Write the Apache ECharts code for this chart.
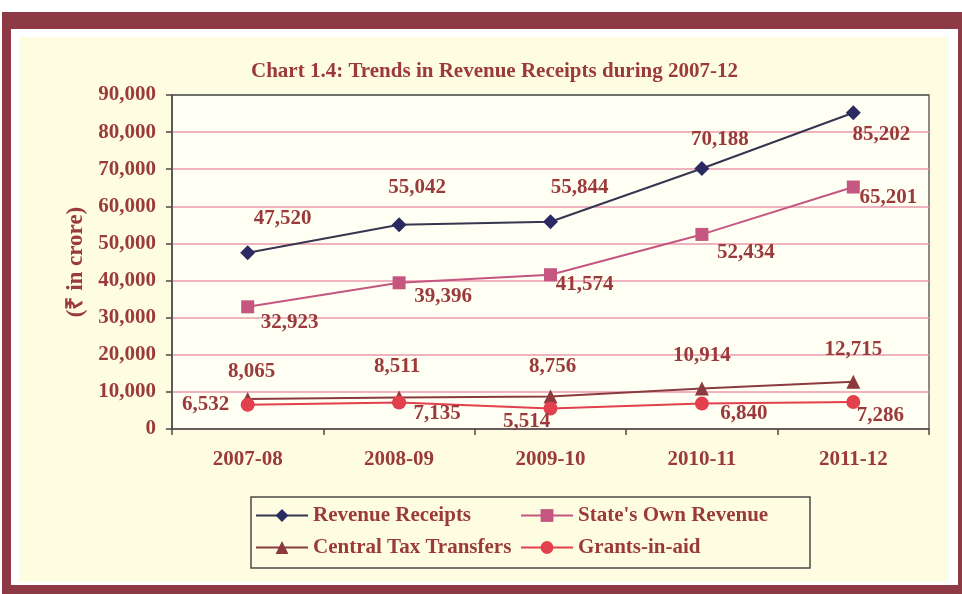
<!DOCTYPE html>
<html>
<head>
<meta charset="utf-8">
<style>
  html, body { margin: 0; padding: 0; background: #ffffff; }
  #chart { width: 962px; height: 594px; }
</style>
<script src="https://cdn.jsdelivr.net/npm/echarts@6/dist/echarts.min.js"></script>
</head>
<body>
<div id="chart"></div>
<script>
// Revenue receipts of the State, 2007-08 to 2011-12 (₹ in crore)
const categories = ['2007-08', '2008-09', '2009-10', '2010-11', '2011-12'];
const revenueReceipts = [47520, 55042, 55844, 70188, 85202];
const statesOwnRevenue = [32923, 39396, 41574, 52434, 65201];
const centralTaxTransfers = [8065, 8511, 8756, 10914, 12715];
const grantsInAid = [6532, 7135, 5514, 6840, 7286];

const seriesNames = ['Revenue Receipts', "State's Own Revenue", 'Central Tax Transfers', 'Grants-in-aid'];
const yAxisTitle = '(₹ in crore)';
const chartTitle = 'Chart 1.4: Trends in Revenue Receipts during 2007-12';

// value-label offsets from each marker centre, in pixels
const rrLabelOffsets = [[35, -34], [18, -37], [29, -34], [18, -29], [28, 22]];
const sorLabelOffsets = [[42, 16], [44, 14], [34, 10], [44, 18], [35, 11]];
const ctLabelOffsets = [[4, -27], [-2, -31], [2, -30], [0, -33], [0, -32]];
const giaLabelOffsets = [[-42, 0], [38, 11], [-24, 13], [42, 10], [27, 14]];

const TEXT = '#9A3A3A';
const FONT = '"Liberation Serif", "Times New Roman", serif';
const FS = 21;

function fmt(v) { return v.toLocaleString('en-US'); }

function withLabels(values, offsets) {
  return values.map((v, i) => ({
    value: v,
    label: { offset: offsets[i] }
  }));
}

const labelBase = {
  show: true,
  position: 'inside',
  color: TEXT,
  fontFamily: FONT,
  fontWeight: 'bold',
  fontSize: FS,
  formatter: p => fmt(p.value)
};

const legendText = { color: TEXT, fontFamily: FONT, fontWeight: 'bold', fontSize: FS };

const chart = echarts.init(document.getElementById('chart'), null, { renderer: 'canvas' });

chart.setOption({
  backgroundColor: '#ffffff',
  animation: false,
  graphic: [
    { type: 'rect', z: -100, silent: true, shape: { x: 2, y: 12, width: 975, height: 600 }, style: { fill: '#8E3A46' } },
    { type: 'rect', z: -99, silent: true, shape: { x: 11, y: 29, width: 947, height: 556 }, style: { fill: '#FFFFFF' } },
    { type: 'rect', z: -98, silent: true, shape: { x: 19, y: 37, width: 928, height: 545 }, style: { fill: '#FFFDE1' } },
    { type: 'rect', z: -97, silent: true, shape: { x: 251, y: 497, width: 559, height: 71 }, style: { fill: 'none', stroke: '#4A4A4A', lineWidth: 1.5 } }
  ],
  title: {
    text: chartTitle,
    left: 246,
    top: 56,
    textStyle: { color: TEXT, fontFamily: FONT, fontWeight: 'bold', fontSize: FS }
  },
  legend: [
    {
      orient: 'vertical',
      left: 255,
      top: 505,
      padding: 0,
      itemGap: 11,
      itemWidth: 52,
      itemHeight: 16,
      data: [seriesNames[0], seriesNames[2]],
      textStyle: legendText
    },
    {
      orient: 'vertical',
      left: 520,
      top: 505,
      padding: 0,
      itemGap: 11,
      itemWidth: 52,
      itemHeight: 16,
      data: [seriesNames[1], seriesNames[3]],
      textStyle: legendText
    }
  ],
  grid: {
    left: 172,
    top: 95,
    right: 33,
    bottom: 165,
    show: true,
    backgroundColor: '#FFFFF3',
    borderColor: '#666666',
    borderWidth: 1.5
  },
  xAxis: {
    type: 'category',
    data: categories,
    boundaryGap: true,
    axisLine: { lineStyle: { color: '#4A4A4A', width: 1.5 } },
    axisTick: { show: true, length: 6, lineStyle: { color: '#4A4A4A', width: 1.5 } },
    axisLabel: { color: TEXT, fontFamily: FONT, fontWeight: 'bold', fontSize: FS, margin: 20 },
    splitLine: { show: false }
  },
  yAxis: {
    type: 'value',
    min: 0,
    max: 90000,
    interval: 10000,
    name: yAxisTitle,
    nameLocation: 'middle',
    nameRotate: 90,
    nameGap: 84,
    nameTextStyle: { color: TEXT, fontFamily: FONT, fontWeight: 'bold', fontSize: 23 },
    axisLine: { show: true, lineStyle: { color: '#4A4A4A', width: 1.5 } },
    axisTick: { show: true, length: 6, lineStyle: { color: '#4A4A4A', width: 1.5 } },
    axisLabel: { color: TEXT, fontFamily: FONT, fontWeight: 'bold', fontSize: FS, margin: 16, formatter: v => fmt(v) },
    splitLine: {
      show: true,
      lineStyle: {
        color: ['#EA98AE', '#EA98AE', '#EA98AE', '#EA98AE', '#EA98AE', '#EA98AE', '#EA98AE', '#EA98AE', '#EA98AE', '#666666'],
        width: 1.5
      }
    }
  },
  series: [
    {
      name: seriesNames[0],
      type: 'line',
      data: withLabels(revenueReceipts, rrLabelOffsets),
      symbol: 'diamond',
      symbolSize: 15,
      lineStyle: { color: '#363650', width: 2 },
      itemStyle: { color: '#2C2A62' },
      label: labelBase,
      z: 5
    },
    {
      name: seriesNames[1],
      type: 'line',
      data: withLabels(statesOwnRevenue, sorLabelOffsets),
      symbol: 'rect',
      symbolSize: 13,
      lineStyle: { color: '#C45680', width: 2 },
      itemStyle: { color: '#C45680' },
      label: labelBase,
      z: 4
    },
    {
      name: seriesNames[2],
      type: 'line',
      data: withLabels(centralTaxTransfers, ctLabelOffsets),
      symbol: 'triangle',
      symbolSize: 14,
      lineStyle: { color: '#8B3A3E', width: 2 },
      itemStyle: { color: '#8B3A3E' },
      label: labelBase,
      z: 3
    },
    {
      name: seriesNames[3],
      type: 'line',
      data: withLabels(grantsInAid, giaLabelOffsets),
      symbol: 'circle',
      symbolSize: 14,
      lineStyle: { color: '#E2404C', width: 2 },
      itemStyle: { color: '#E2404C' },
      label: labelBase,
      z: 3
    }
  ]
});
</script>
</body>
</html>
